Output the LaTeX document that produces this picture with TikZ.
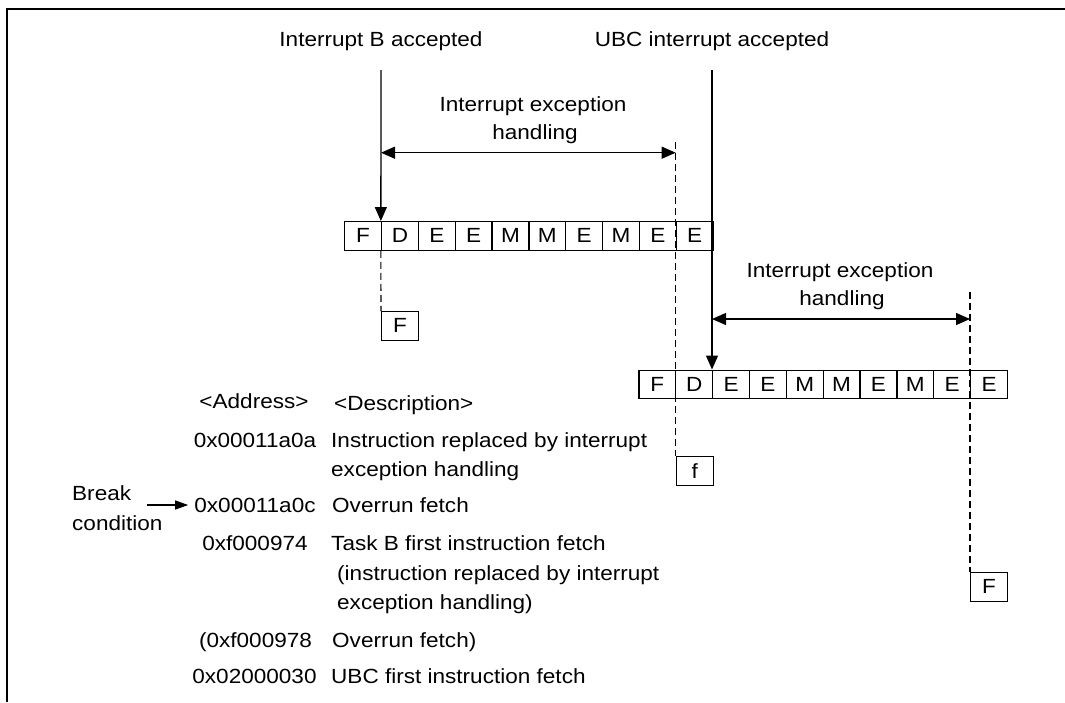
\documentclass[tikz,border=0pt]{standalone}
\usepackage{fontspec}
\setmainfont{Liberation Sans}[FakeStretch=1.1]
\usetikzlibrary{arrows.meta}
\begin{document}
\begin{tikzpicture}[x=1pt,y=-1pt,
  every node/.style={font=\fontsize{20.5}{24}\selectfont},
  line/.style={line width=1.3pt},
  cell/.style={draw,line width=1.3pt,minimum width=36.85pt,minimum height=28.5pt,inner sep=0pt,anchor=north west},
  dsh/.style={line width=1.1pt,dash pattern=on 7pt off 4pt},
  tip/.style={-{Triangle[length=14pt,width=12pt]}},
  dtip/.style={{Triangle[length=14pt,width=12pt]}-{Triangle[length=14pt,width=12pt]}},
  txt/.style={anchor=base west,inner sep=0pt},
  ctxt/.style={anchor=base,inner sep=0pt}]
\useasboundingbox (0,0) rectangle (1065,702);
% frame
\draw[line width=2.2pt] (7,702) -- (7,9) -- (1066,9);
% top labels
\node (lblB) at (381,41) {Interrupt B accepted};
\node (lblU) at (712,41) {UBC interrupt accepted};
\coordinate (topB) at (381,70);
\coordinate (topU) at (712,70);
% row 1
\foreach \l [count=\i from 0] in {F,D,E,E,M,M,E,M,E,E}
  \node[cell] (a\i) at (344+\i*36.85,221) {\l};
% row 2
\foreach \l [count=\i from 0] in {F,D,E,E,M,M,E,M,E,E}
  \node[cell] (b\i) at (638.3+\i*36.85,369.5) {\l};
% single boxes
\node[cell] (F1) at (381,311) {F};
\node[cell] (f1) at (675.65,456) {f};
\node[cell] (F2) at (970,572) {F};
% accepted arrows
\draw[line,tip] (topB) -- (a1.north west);
\draw[line,tip] (topU) -- (b2.north west);
% handling 1
\node (h1a) at (533,106) {Interrupt exception};
\node (h1b) at (535,134) {handling};
\coordinate (h1l) at (381,152.7);
\coordinate (h1r) at (675.65,152.7);
\draw[line,dtip] (h1l) -- (h1r);
% handling 2
\node (h2a) at (840,272) {Interrupt exception};
\node (h2b) at (842,300) {handling};
\coordinate (h2l) at (712,319);
\coordinate (h2r) at (970,319);
\draw[line,dtip] (h2l) -- (h2r);
% dashed lines
\coordinate (dA) at (675.65,142);
\coordinate (dC) at (970,292);
\draw[dsh] (dA) -- (f1.north west);
\draw[dsh] (a1.south west) -- (F1.north west);
\draw[dsh] (dC) -- (F2.north west);
% bottom table
\node[ctxt] (hAddr) at (254,408) {<Address>};
\node[txt] (hDesc) at (334,410) {<Description>};
\node[ctxt] (ad1) at (255,447) {0x00011a0a};
\node[txt] (de1) at (331,447) {Instruction replaced by interrupt};
\node[txt] (de1b) at (331,476) {exception handling};
\node[txt] (brk1) at (72,500) {Break};
\node[txt] (brk2) at (72,530) {condition};
\node[ctxt] (ad2) at (255,512) {0x00011a0c};
\node[txt] (de2) at (332,512) {Overrun fetch};
\coordinate (brkS) at (147,505);
\draw[line width=1.1pt,-{Triangle[length=13pt,width=9pt]}] (brkS) -- ([xshift=-6pt]ad2.west |- brkS);
\node[ctxt] (ad3) at (255,550) {0xf000974};
\node[txt] (de3) at (331,550) {Task B first instruction fetch};
\node[txt] (de3b) at (337,580) {(instruction replaced by interrupt};
\node[txt] (de3c) at (337,609) {exception handling)};
\node[ctxt] (ad4) at (255.5,647) {(0xf000978};
\node[txt] (de4) at (332,647) {Overrun fetch)};
\node[ctxt] (ad5) at (254.5,683) {0x02000030};
\node[txt] (de5) at (331,683) {UBC first instruction fetch};
\end{tikzpicture}
\end{document}
